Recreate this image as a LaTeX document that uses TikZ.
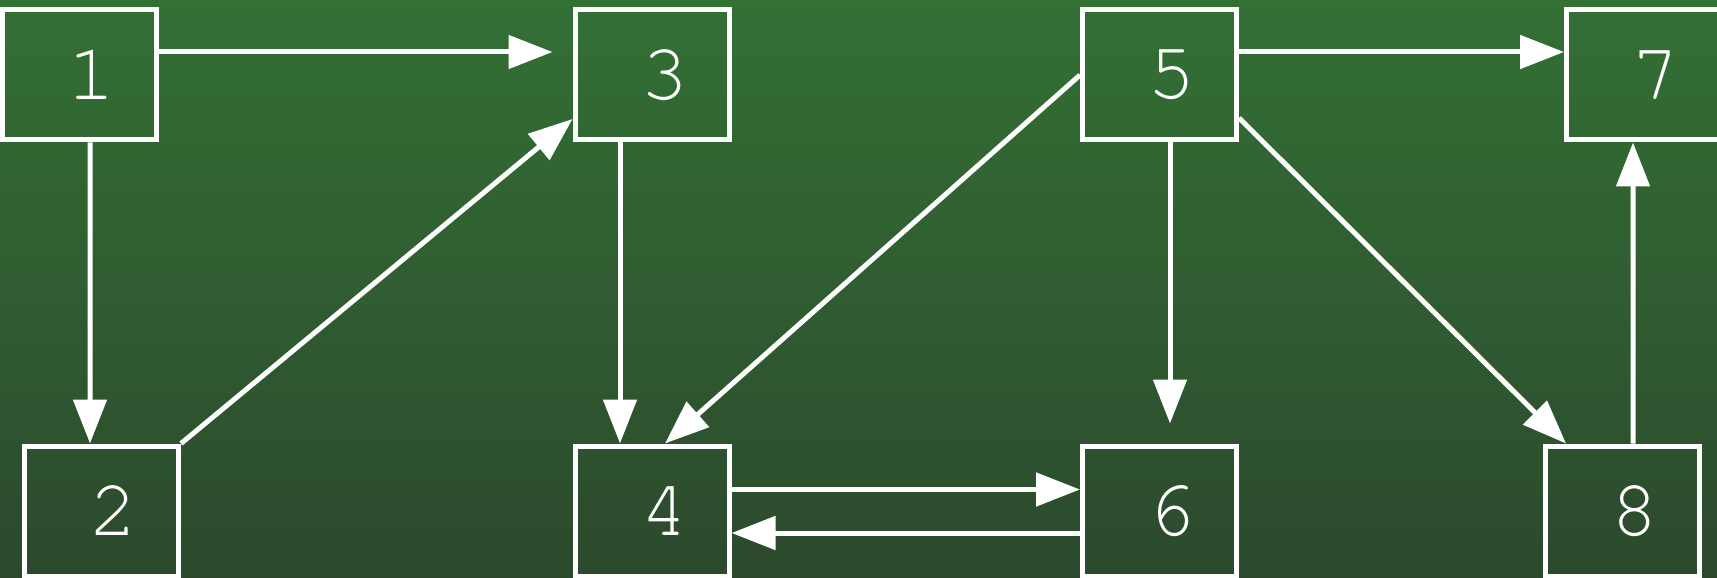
\documentclass[tikz,border=0pt]{standalone}
\usepackage{fontspec}
\newfontfamily\digitfont{texgyrecursor-regular.otf}
\usepackage{tikz}
\usetikzlibrary{calc, arrows.meta, positioning}

\definecolor{bgtop}{RGB}{51,112,52}
\definecolor{bgbot}{RGB}{44,73,45}

\tikzset{
    vbox/.style={draw=white, line width=0.5mm, minimum width=15.4mm, minimum height=13mm,
        inner sep=0pt, text=white, font=\digitfont\fontsize{23pt}{27pt}\selectfont,
        execute at begin node={\hspace*{2.5mm}}},
    edge/.style={draw=white, line width=0.5mm, ->}
}

\begin{document}
\begin{tikzpicture}[x=0.1mm, y=-0.1mm, >={Triangle[length=4.4mm, width=3.3mm]}]
    \shade[top color=bgtop, bottom color=bgbot] (0,0) rectangle (1717,577);
    \useasboundingbox (0,0) rectangle (1717,577);

    \node[vbox] at (79.5, 75) (v1) {1};
    \node[vbox] at (652, 75) (v3) {3};
    \node[vbox] at (1159.5, 75) (v5) {5};
    \node[vbox] at (1643.5, 75) (v7) {7};
    \node[vbox] at (101.5, 511) (v2) {2};
    \node[vbox] at (652, 511) (v4) {4};
    \node[vbox] at (1159.5, 511) (v6) {6};
    \node[vbox] at (1622.5, 511) (v8) {8};

    \draw[edge, shorten >=2mm] ($(v1.east)+(0,-23)$) -- ($(v3.west)+(0,-23)$);
    \draw[edge] ($(v1.south)+(10.5,0)$) -- ($(v2.north)+(-11.5,0)$);
    \draw[edge] (v2.north east) -- ($(v3.west)+(0,44)$);
    \draw[edge] ($(v3.south)+(-32,0)$) -- ($(v4.north)+(-32,0)$);
    \draw[edge] (v5.west) -- ($(v4.north)+(13,0)$);
    \draw[edge, shorten >=2mm] ($(v5.south)+(10.5,0)$) -- ($(v6.north)+(10.5,0)$);
    \draw[edge] ($(v5.east)+(0,-23)$) -- ($(v7.west)+(0,-23)$);
    \draw[edge] ($(v5.east)+(0,43)$) -- ($(v8.north west)+(23,0)$);
    \draw[edge] ($(v8.north)+(10.5,0)$) -- ($(v7.south)+(-10.5,0)$);
    \draw[edge] ($(v4.east)+(0,-21.5)$) -- ($(v6.west)+(0,-21.5)$);
    \draw[edge] ($(v6.west)+(0,22)$) -- ($(v4.east)+(0,22)$);
\end{tikzpicture}
\end{document}
